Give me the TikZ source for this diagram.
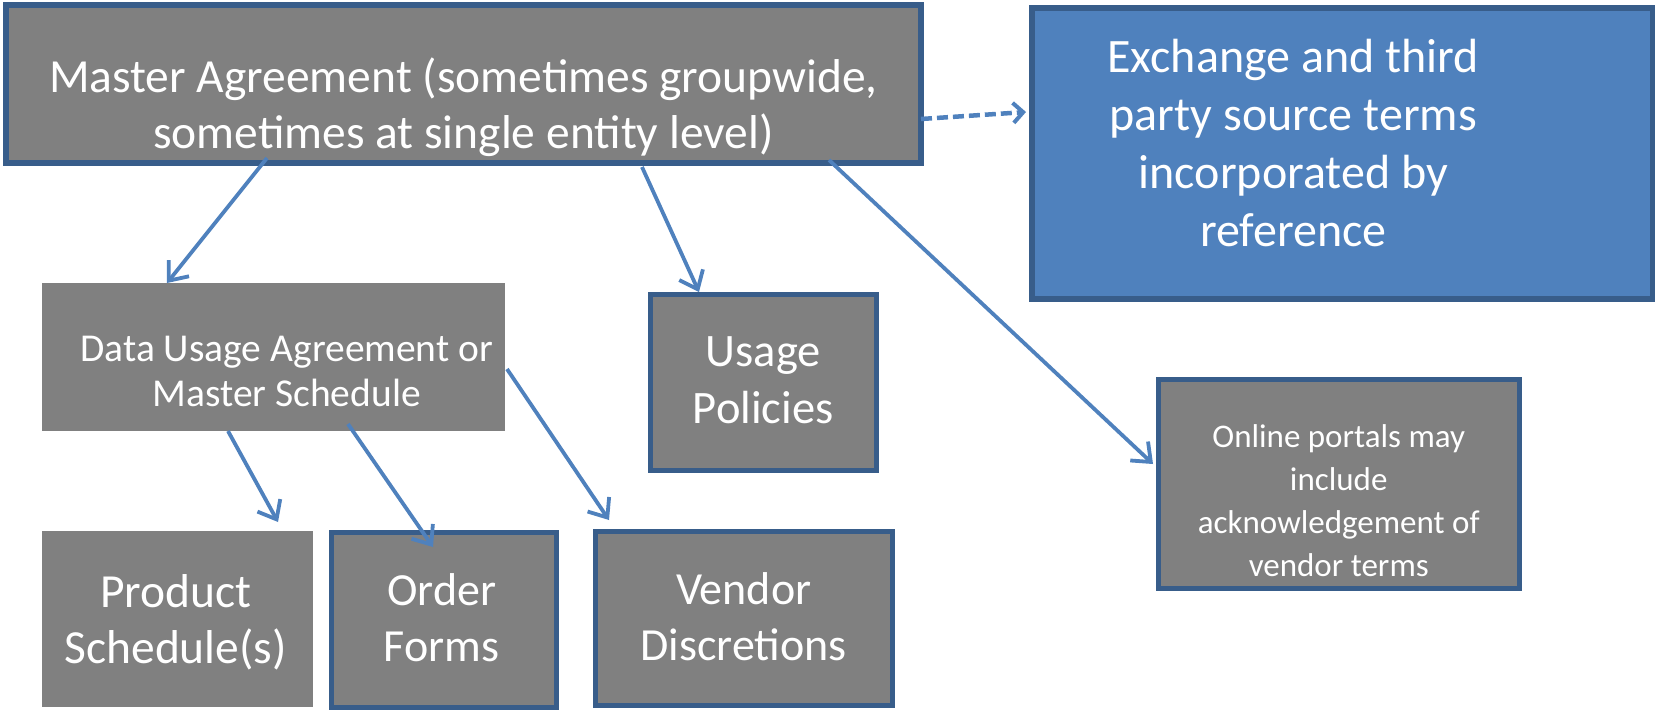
\documentclass[tikz,border=0pt]{standalone}
\usepackage{fontspec}
\setmainfont{Carlito}
\usetikzlibrary{arrows.meta}
\definecolor{boxgray}{HTML}{808080}
\definecolor{darkblue}{HTML}{385D8A}
\definecolor{officeblue}{HTML}{4F81BD}
\tikzset{
  box/.style={anchor=north west, inner sep=0pt, fill=boxgray},
  bordered/.style={box, draw=darkblue, line width=4.5pt},
  txt/.style={text=white, align=center},
  conn/.style={draw=officeblue, line width=3.8pt, -{Straight Barb[length=16pt,width=26pt,line width=3.8pt]}},
  dconn/.style={draw=officeblue, line width=4.5pt, dash pattern=on 11pt off 5pt, -{Straight Barb[length=10pt,width=20pt,line width=4pt]}},
}
\newcommand{\fs}[2]{\fontsize{#1}{#2}\selectfont}
\begin{document}
\begin{tikzpicture}[x=1pt,y=-1pt]
\useasboundingbox (0,0) rectangle (1655,710);
% boxes
\node[bordered, line width=5.5pt, minimum width=915pt, minimum height=158pt,
  label={[txt, font=\fs{47.5}{56}, yshift=-23pt]center:Master Agreement (sometimes groupwide,\\sometimes at single entity level)}]
  (master) at (3,2) {};
\node[bordered, line width=5.5pt, fill=officeblue, minimum width=621pt, minimum height=291pt,
  label={[txt, font=\fs{48}{58}, xshift=-49pt, yshift=10pt]center:Exchange and third\\party source terms\\incorporated by\\reference}]
  (exch) at (1029,5) {};
\node[box, minimum width=463pt, minimum height=148pt,
  label={[txt, font=\fs{39.5}{45}, xshift=13pt, yshift=-14pt]center:Data Usage Agreement or\\Master Schedule}]
  (dua) at (42,283) {};
\node[bordered, minimum width=226pt, minimum height=176pt,
  label={[txt, font=\fs{46.5}{57}, yshift=2pt]center:Usage\\Policies}]
  (usage) at (648,292) {};
\node[bordered, minimum width=361pt, minimum height=209pt,
  label={[txt, font=\fs{33}{43}, yshift=-17pt]center:Online portals may\\include\\acknowledgement of\\vendor terms}]
  (online) at (1156,377) {};
\node[box, minimum width=271pt, minimum height=176pt,
  label={[txt, font=\fs{47.5}{56}, xshift=-2pt, yshift=-3pt]center:Product\\Schedule(s)}]
  (product) at (42,531) {};
\node[bordered, minimum width=225pt, minimum height=175pt,
  label={[txt, font=\fs{46}{56}, xshift=-2pt, yshift=2pt]center:Order\\Forms}]
  (order) at (329,530) {};
\node[bordered, minimum width=297pt, minimum height=174pt,
  label={[txt, font=\fs{46}{56}, yshift=2pt]center:Vendor\\Discretions}]
  (vendor) at (593,529) {};
% connectors
\draw[conn] ([shift={(264,156)}]master.north west) -- ([shift={(125,0)}]dua.north west);
\draw[conn] ([shift={(639,165)}]master.north west) -- ([shift={(51,0)}]usage.north west);
\draw[conn] ([shift={(826,158)}]master.north west) -- ([shift={(-3,87)}]online.north west);
\draw[dconn] ([shift={(918,117)}]master.north west) -- ([shift={(-3,107)}]exch.north west);
\draw[conn] ([shift={(186,148)}]dua.north west) -- ([shift={(236,-9)}]product.north west);
\draw[conn] ([shift={(306,141)}]dua.north west) -- ([shift={(104,17)}]order.north west);
\draw[conn] ([shift={(465,86)}]dua.north west) -- ([shift={(16,-9)}]vendor.north west);
\end{tikzpicture}
\end{document}
